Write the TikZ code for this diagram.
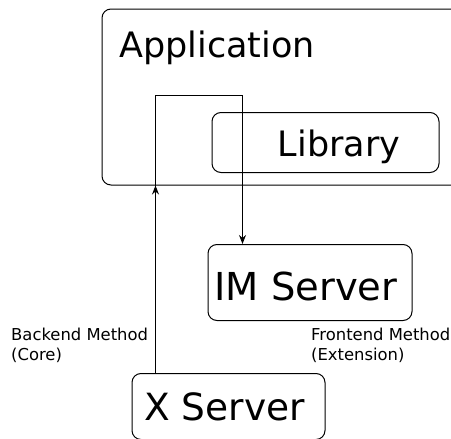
\documentclass[tikz,border=0pt]{standalone}
\usepackage{fontspec}
\setmainfont{DejaVu Sans}
\usetikzlibrary{arrows.meta}
\begin{document}
\begin{tikzpicture}[x=1pt,y=1pt,
  box/.style={draw=black, line width=1pt, rounded corners=9pt, inner sep=0pt},
  conn/.style={draw=black, line width=1pt},
  tip/.style={-{Stealth[length=9pt,width=7pt]}},
  big/.style={font=\fontsize{35}{42}\selectfont, inner sep=0pt},
  huge/.style={font=\fontsize{38.5}{46}\selectfont, inner sep=0pt},
  hugex/.style={font=\fontsize{37.5}{46}\selectfont, inner sep=0pt},
  small/.style={font=\fontsize{16.4}{20}\selectfont, align=left, inner sep=0pt}]
\useasboundingbox (0,0) rectangle (451,-439);
\node[box, minimum width=360pt, minimum height=176pt, anchor=north west] (app) at (101.5,-8.5) {};
\node[big, anchor=base west] (apptext) at (119,-57) {Application};
\node[box, minimum width=227pt, minimum height=60pt, anchor=north west] (lib) at (211.5,-112) {};
\node[big, anchor=base] (libtext) at (339,-156) {Library};
\node[box, minimum width=204pt, minimum height=76pt, anchor=north west] (im) at (207.5,-244) {};
\node[huge, anchor=base] (imtext) at (306,-300) {IM Server};
\node[box, minimum width=193pt, minimum height=66pt, anchor=north west] (xs) at (131.5,-373) {};
\node[hugex, anchor=base] (xstext) at (224.5,-420) {X Server};
\node[small, anchor=north west] (blabel) at (11,-328) {Backend Method\\(Core)};
\node[small, anchor=north west] (flabel) at (311,-328) {Frontend Method\\(Extension)};
\coordinate (c1) at (155.5,-95);
\coordinate (c2) at (242.5,-95);
\draw[conn, tip] (xs.north -| c1) -- (app.south -| c1);
\draw[conn, tip] (app.south -| c1) -- (c1) -- (c2) -- (im.north -| c2);
\end{tikzpicture}
\end{document}
